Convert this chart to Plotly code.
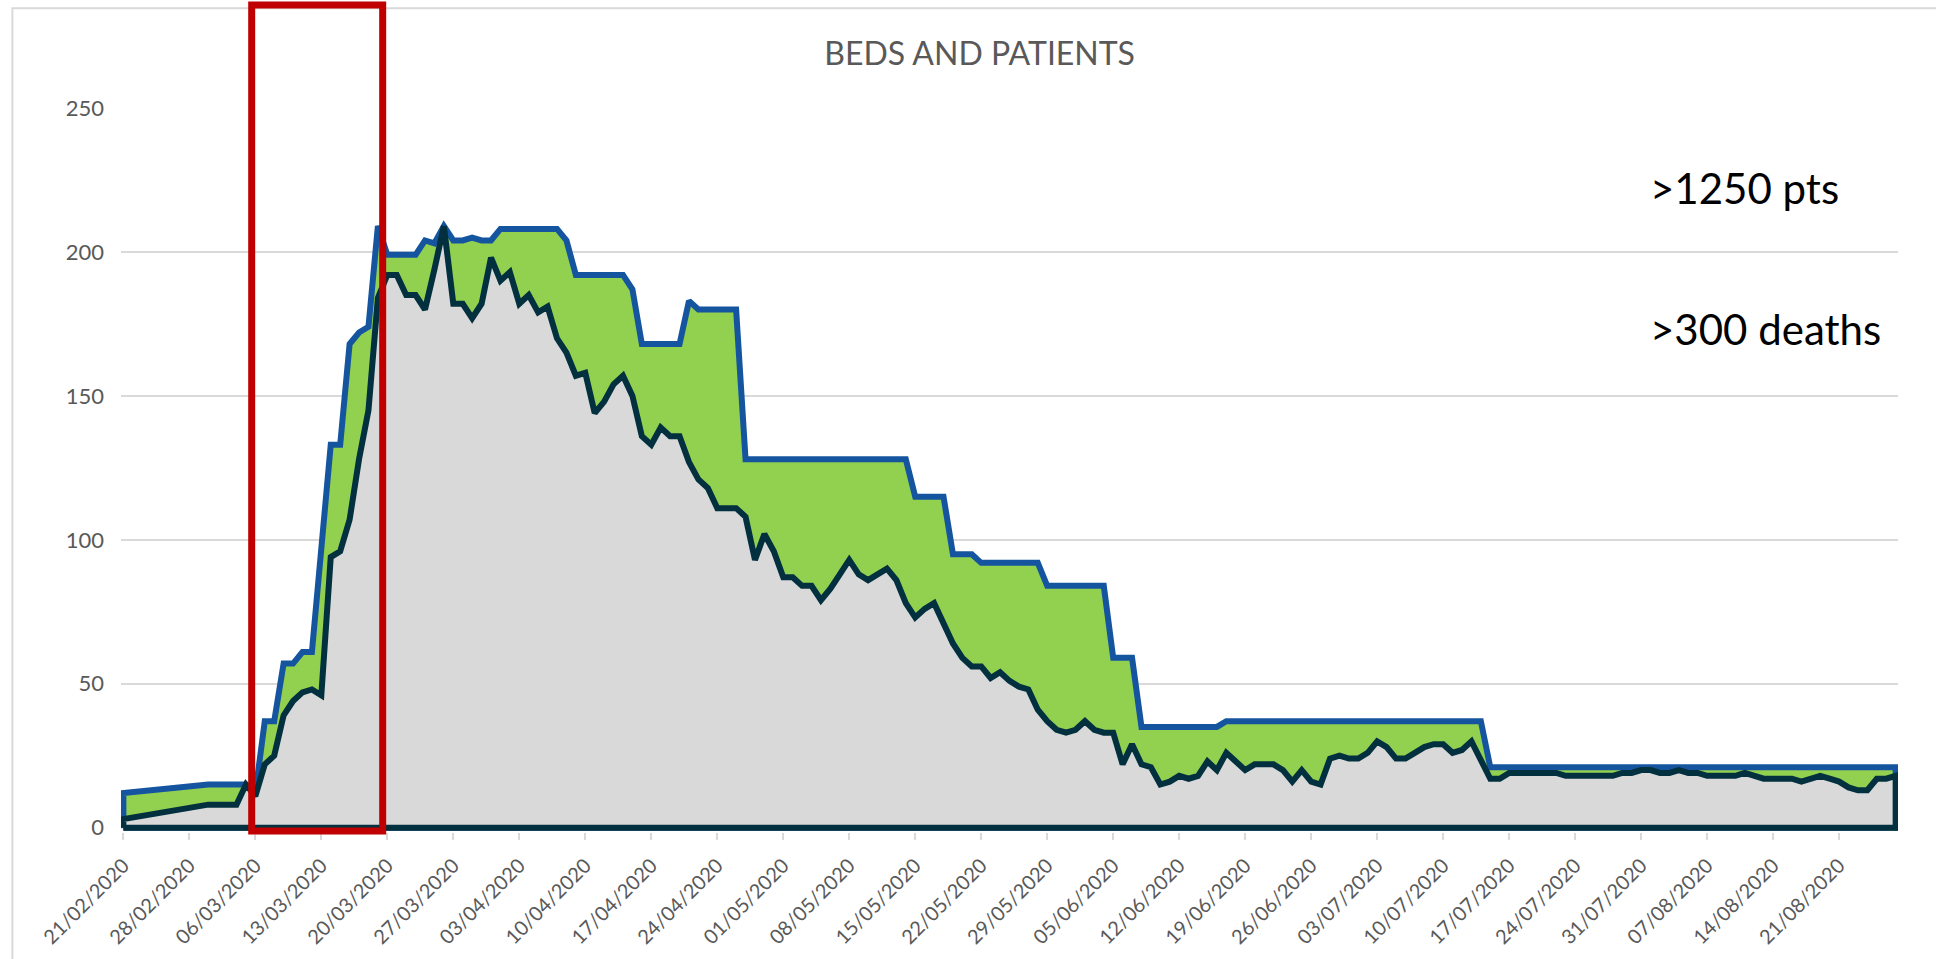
import pandas as pd
import plotly.graph_objects as go

# ---- data -------------------------------------------------------------
# first record on 21/02/2020, then daily records from 01/03/2020 to 27/08/2020
dates = ["2020-02-21"] + pd.date_range("2020-03-01", "2020-08-27", freq="D").strftime("%Y-%m-%d").tolist()

beds = [
    12,
    15, 15, 15, 15, 15, 12, 37, 37, 57, 57, 61, 61, 96, 133, 133, 168, 172, 174, 209, 199,
    199, 199, 199, 204, 203, 209, 204, 204, 205, 204, 204, 208, 208, 208, 208, 208, 208, 208,
    204, 192, 192, 192, 192, 192, 192, 187, 168, 168, 168, 168, 168, 183, 180, 180, 180, 180,
    180, 128, 128, 128, 128, 128, 128, 128, 128, 128, 128, 128, 128, 128, 128, 128, 128, 128,
    128, 115, 115, 115, 115, 95, 95, 95, 92, 92, 92, 92, 92, 92, 92, 84, 84, 84, 84, 84, 84,
    84, 59, 59, 59, 35, 35, 35, 35, 35, 35, 35, 35, 35, 37, 37, 37, 37, 37, 37, 37, 37, 37,
    37, 37, 37, 37, 37, 37, 37, 37, 37, 37, 37, 37, 37, 37, 37, 37, 37, 37, 37, 21, 21, 21,
    21, 21, 21, 21, 21, 21, 21, 21, 21, 21, 21, 21, 21, 21, 21, 21, 21, 21, 21, 21, 21, 21,
    21, 21, 21, 21, 21, 21, 21, 21, 21, 21, 21, 21, 21, 21, 21, 21, 21, 21, 21,
]

patients = [
    3,
    8, 8, 8, 8, 15, 11, 22, 25, 39, 44, 47, 48, 46, 94, 96, 107, 128, 145, 184, 192,
    192, 185, 185, 180, 194, 209, 182, 182, 177, 182, 198, 190, 193, 182, 185, 179, 181, 170,
    165, 157, 158, 144, 148, 154, 157, 150, 136, 133, 139, 136, 136, 127, 121, 118, 111, 111,
    111, 108, 93, 102, 96, 87, 87, 84, 84, 79, 83, 88, 93, 88, 86, 88, 90, 86, 78, 73, 76, 78,
    71, 64, 59, 56, 56, 52, 54, 51, 49, 48, 41, 37, 34, 33, 34, 37, 34, 33, 33, 22, 29, 22,
    21, 15, 16, 18, 17, 18, 23, 20, 26, 23, 20, 22, 22, 22, 20, 16, 20, 16, 15, 24, 25, 24,
    24, 26, 30, 28, 24, 24, 26, 28, 29, 29, 26, 27, 30, 23, 17, 17, 19, 19, 19, 19, 19, 19,
    18, 18, 18, 18, 18, 18, 19, 19, 20, 20, 19, 19, 20, 19, 19, 18, 18, 18, 18, 19, 18, 17,
    17, 17, 17, 16, 17, 18, 17, 16, 14, 13, 13, 17, 17, 18,
]

assert len(beds) == len(dates) and len(patients) == len(dates)

tick_start = "2020-02-21"
y_ticks = [0, 50, 100, 150, 200, 250]
title_text = "BEDS AND PATIENTS"
note_patients = ">1250 pts"
note_deaths = ">300 deaths"

# ---- styling ------------------------------------------------------------
W, H = 1936, 959
FONT = "Lato"
GREY_TXT = "#595959"
GRID = "#D9D9D9"


def closed(xs, ys):
    """close an area outline down to the baseline (like an outlined Excel area)."""
    return [xs[0]] + xs + [xs[-1], xs[0]], [0] + ys + [0, 0]


bx, by = closed(dates, beds)
px_, py_ = closed(dates, patients)

fig = go.Figure()
fig.add_trace(go.Scatter(
    x=bx, y=by, mode="lines", fill="toself", fillcolor="#92D050",
    line=dict(color="#1555A0", width=6), hoverinfo="skip", showlegend=False,
))
fig.add_trace(go.Scatter(
    x=px_, y=py_, mode="lines", fill="toself", fillcolor="#D9D9D9",
    line=dict(color="#02303F", width=6), hoverinfo="skip", showlegend=False,
))

# plot area geometry (pixels)
L, R, T, B = 121.3, 1898.4, 108.0, 832.0


def px_x(x):
    return (x - L) / (R - L)


def px_y(y):
    return (B - y) / (B - T)


fig.update_layout(
    width=W, height=H,
    margin=dict(l=L, r=W - R, t=T, b=H - B, pad=0, autoexpand=False),
    paper_bgcolor="white", plot_bgcolor="white",
    font=dict(family=FONT, color=GREY_TXT),
    title=dict(text=title_text, x=px_x(980), xanchor="center", xref="paper",
               y=1 - 53.5 / H, yanchor="middle", yref="container",
               font=dict(family=FONT, size=32, color=GREY_TXT)),
    xaxis=dict(
        type="date", automargin=False,
        range=["2020-02-20 18:00", "2020-08-27 06:00"],
        tick0=tick_start, dtick=7 * 86400000, tickformat="%d/%m/%Y",
        tickangle=-45, tickfont=dict(family=FONT, size=20, color=GREY_TXT),
        ticks="outside", ticklen=7, tickwidth=1.5, tickcolor=GRID,
        ticklabelstandoff=6,
        showgrid=False, zeroline=False, showline=False,
    ),
    yaxis=dict(
        automargin=False,
        range=[-1.5, 250],
        tickvals=y_ticks,
        tickfont=dict(family=FONT, size=22, color=GREY_TXT),
        showgrid=True, gridcolor=GRID, gridwidth=1.5,
        zeroline=False, showline=False, ticks="",
        ticklabelstandoff=16,
    ),
    shapes=[
        # chart frame (top and left edges visible)
        dict(type="rect", xref="paper", yref="paper",
             x0=px_x(12.7), x1=px_x(W + 20), y0=px_y(H + 20), y1=px_y(8.3),
             line=dict(color=GRID, width=2), fillcolor="rgba(0,0,0,0)", layer="below"),
        # red highlight box
        dict(type="rect", xref="paper", yref="paper",
             x0=px_x(252), x1=px_x(383), y0=px_y(831), y1=px_y(5),
             line=dict(color="#C00000", width=7), fillcolor="rgba(0,0,0,0)", layer="above"),
    ],
    annotations=[
        dict(text=note_patients, xref="paper", yref="paper", x=px_x(1648), y=px_y(188),
             xanchor="left", yanchor="middle", showarrow=False,
             font=dict(family=FONT, size=42, color="black")),
        dict(text=note_deaths, xref="paper", yref="paper", x=px_x(1648), y=px_y(329),
             xanchor="left", yanchor="middle", showarrow=False,
             font=dict(family=FONT, size=42, color="black")),
    ],
)

fig.write_html("out.html", config={"displayModeBar": False},
               post_script="document.body.style.margin='0';document.body.style.overflow='hidden';")
